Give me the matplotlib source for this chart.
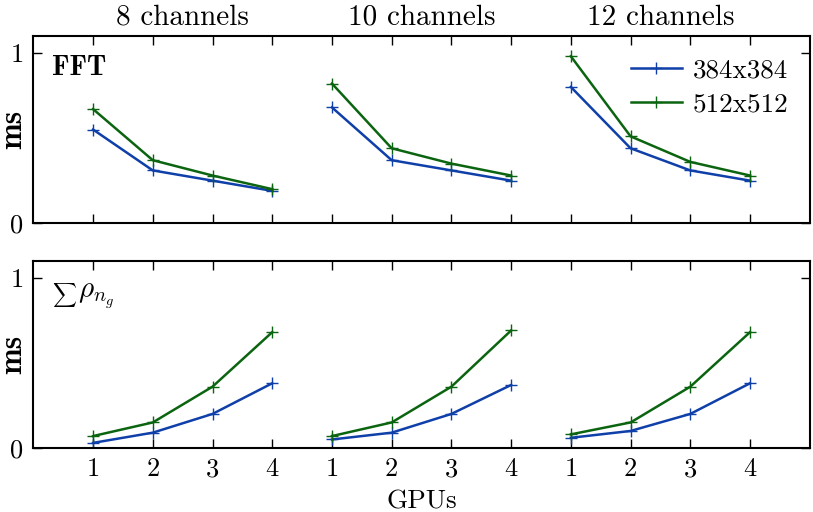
import matplotlib
matplotlib.use("Agg")
import matplotlib.pyplot as plt
import matplotlib.transforms as mtransforms
import numpy as np

plt.rcParams["font.family"] = "serif"
plt.rcParams["font.serif"] = ["cmr10"]
plt.rcParams["mathtext.fontset"] = "cm"
plt.rcParams["axes.formatter.use_mathtext"] = True

# ── Data ──────────────────────────────────────────────────────────────────────
GROUPS = ["8 channels", "10 channels", "12 channels"]
GPUS = [1, 2, 3, 4]
SERIES = ["384x384", "512x512"]

fft_384 = [0.55, 0.31, 0.25, 0.19,
           0.68, 0.37, 0.31, 0.25,
           0.80, 0.44, 0.31, 0.25]
fft_512 = [0.67, 0.37, 0.28, 0.20,
           0.82, 0.44, 0.35, 0.28,
           0.98, 0.51, 0.36, 0.28]

rho_384 = [0.03, 0.09, 0.20, 0.38,
           0.05, 0.09, 0.20, 0.37,
           0.06, 0.10, 0.20, 0.38]
rho_512 = [0.07, 0.15, 0.36, 0.68,
           0.07, 0.15, 0.36, 0.69,
           0.08, 0.15, 0.36, 0.68]

BLUE = "#0f3fa8"
GREEN = "#0b6410"

x = np.arange(1, len(GROUPS) * len(GPUS) + 1)

fig = plt.figure(figsize=(8.13, 5.12), dpi=100)
ax_top = fig.add_axes([0.041, 0.564, 0.955, 0.366])
ax_bot = fig.add_axes([0.041, 0.125, 0.955, 0.366])

for ax, s384, s512 in [(ax_top, fft_384, fft_512), (ax_bot, rho_384, rho_512)]:
    for g in range(len(GROUPS)):
        sl = slice(g * 4, g * 4 + 4)
        ax.plot(x[sl], s384[sl], color=BLUE, lw=1.8, marker="+", ms=9, mew=1.0,
                label=SERIES[0] if g == 0 else None)
        ax.plot(x[sl], s512[sl], color=GREEN, lw=1.8, marker="+", ms=9, mew=1.0,
                label=SERIES[1] if g == 0 else None)
    ax.set_xlim(0, 13)
    ax.set_ylim(0, 1.1)
    ax.set_yticks([0, 1])
    ax.set_yticklabels(["0", "1"], fontsize=19)
    ax.set_xticks(x)
    ax.tick_params(direction="in", length=6.5, width=1, top=True, right=True,
                   pad=7)
    for sp in ax.spines.values():
        sp.set_linewidth(1.5)
    trans = mtransforms.blended_transform_factory(fig.transFigure, ax.transAxes)
    ax.text(0.033, 0.5, "ms", transform=trans, rotation=90, fontsize=23,
            family="cmb10", ha="right", va="center")

# panel labels
ax_top.text(0.0245, 0.79, "FFT", transform=ax_top.transAxes, fontsize=20,
            family="cmb10", ha="left", va="baseline")
ax_bot.text(0.0245, 0.818, r"$\sum$", transform=ax_bot.transAxes,
            fontsize=12, ha="left", va="center")
ax_bot.text(0.058, 0.802, r"$\rho_{n_g}$", transform=ax_bot.transAxes,
            fontsize=21, ha="left", va="baseline")

ax_top.set_xticklabels([])
ax_bot.set_xticklabels([str(g) for g in GPUS] * len(GROUPS), fontsize=19)
ax_bot.set_xlabel("GPUs", fontsize=19.5, labelpad=6)

for g, name in enumerate(GROUPS):
    ax_top.text(g * 4 + 2.5, 1.165, name, fontsize=21, ha="center",
                va="baseline")

ax_top.legend(loc="upper right", frameon=False, fontsize=19.5,
              handlelength=1.9, handletextpad=0.4, borderpad=0,
              borderaxespad=0, labelspacing=0.38,
              bbox_to_anchor=(0.973, 0.88))

fig.savefig("out.png", dpi=100)
